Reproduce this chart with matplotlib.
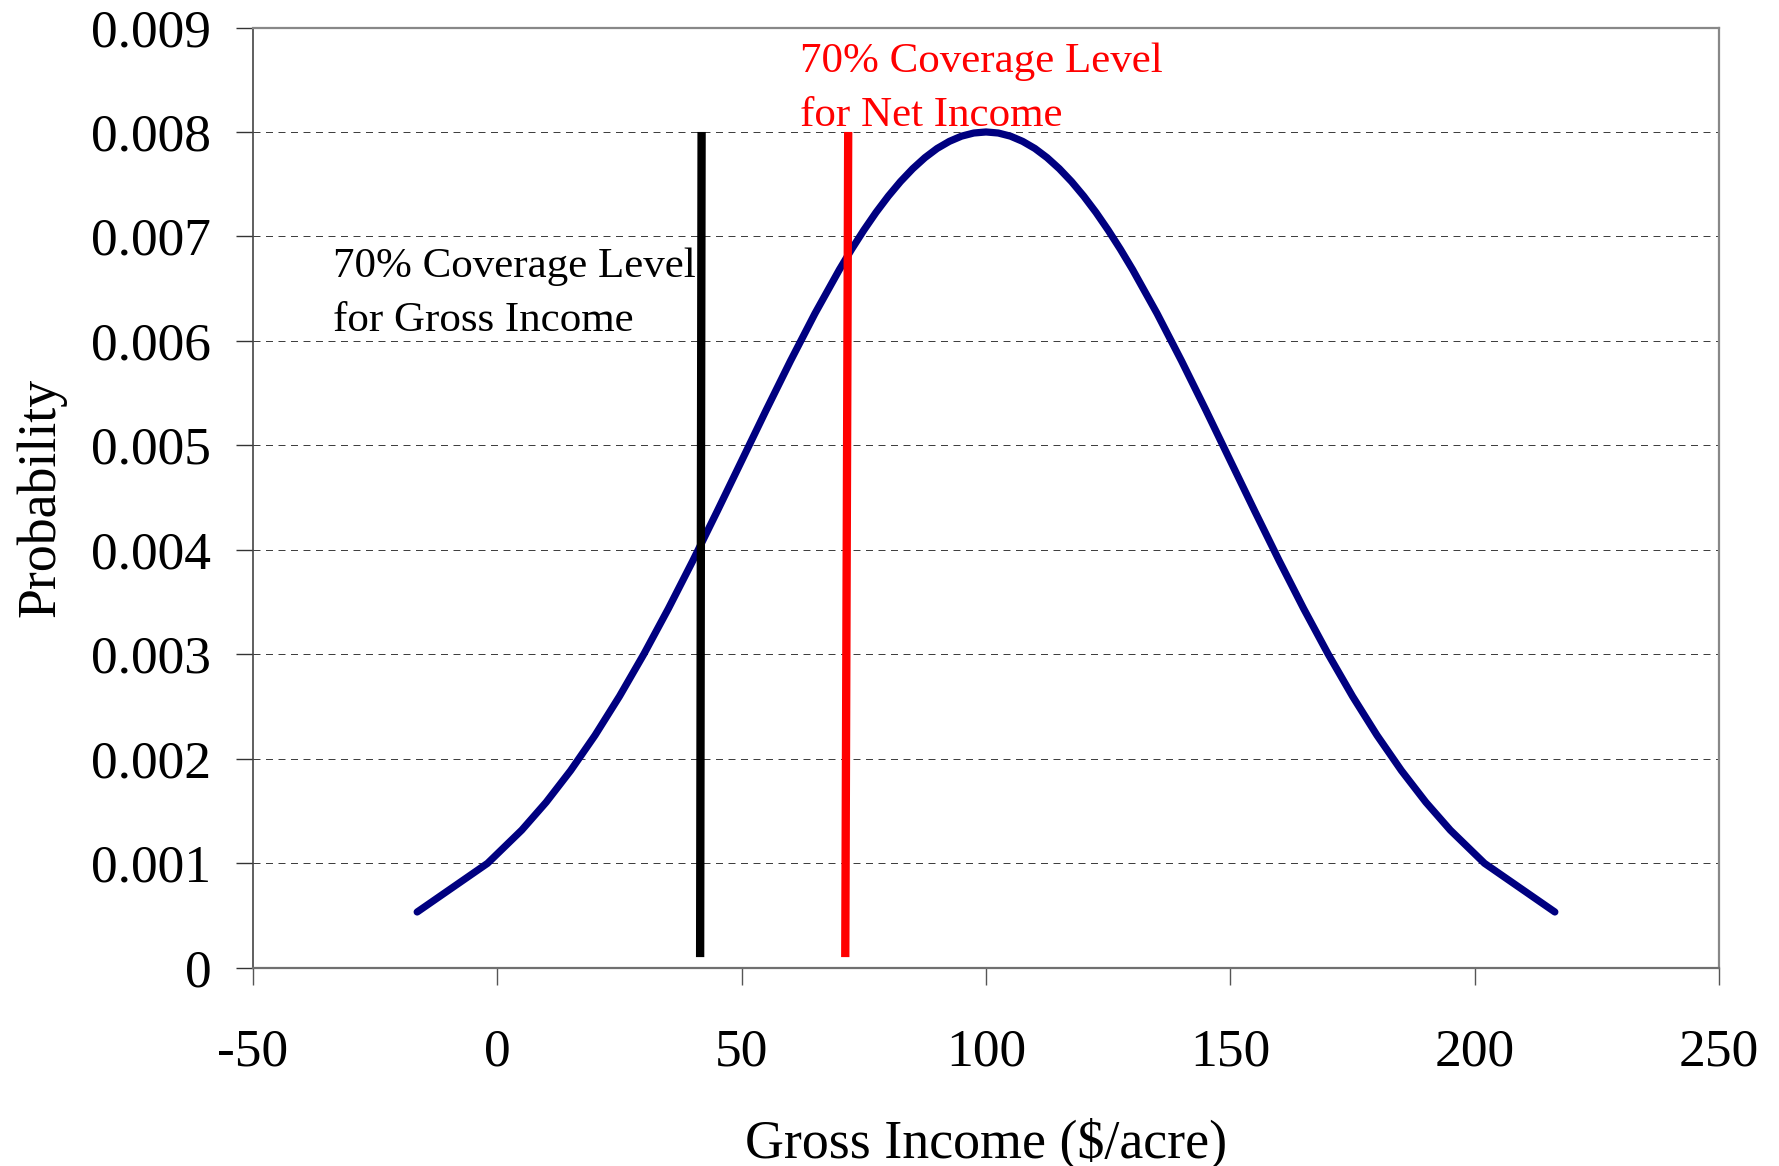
import matplotlib
matplotlib.use("Agg")
import matplotlib.pyplot as plt

# gross income ($/acre) and probability
income = [-16.4, -2, 5, 10, 15, 20, 25, 30, 35, 40, 45, 50, 55, 60, 65,
          70, 72.5, 75, 77.5, 80, 82.5, 85, 87.5, 90, 92.5, 95, 97.5, 100,
          102.5, 105, 107.5, 110, 112.5, 115, 117.5, 120, 122.5, 125, 127.5, 130,
          135, 140, 145, 150, 155, 160, 165, 170, 175, 180, 185, 190, 195, 202, 216.4]
prob = [0.000532, 0.000998, 0.001316, 0.001583, 0.001886, 0.002224, 0.002597, 0.003002, 0.003436,
        0.003894, 0.004369, 0.004852, 0.005336, 0.005809, 0.006262,
        0.006682, 0.006877, 0.007060, 0.007230, 0.007385, 0.007525, 0.007648, 0.007754,
        0.007842, 0.007910, 0.007960, 0.007990, 0.008000,
        0.007990, 0.007960, 0.007910, 0.007842, 0.007754, 0.007648, 0.007525, 0.007385,
        0.007230, 0.007060, 0.006877, 0.006682,
        0.006262, 0.005809, 0.005336, 0.004852, 0.004369, 0.003894, 0.003436, 0.003002,
        0.002597, 0.002224, 0.001886, 0.001583, 0.001316, 0.000998, 0.000532]

# coverage level lines (x at bottom, x at top), y from 0.0001 to 0.008
gross_line_x = [41.5, 41.8]
net_line_x = [71.2, 71.8]
line_y = [0.0001, 0.008]

xticks = [-50, 0, 50, 100, 150, 200, 250]
yticks = [0, 0.001, 0.002, 0.003, 0.004, 0.005, 0.006, 0.007, 0.008, 0.009]
ytick_labels = ["0", "0.001", "0.002", "0.003", "0.004", "0.005", "0.006", "0.007", "0.008", "0.009"]

plt.rcParams['font.family'] = ['Liberation Serif', 'DejaVu Serif']
plt.rcParams['axes.unicode_minus'] = False

fig = plt.figure(figsize=(17.79, 11.66), dpi=100)
ax = fig.add_axes([0.1422, 0.1702, 0.8241, 0.8062])

for y in yticks[1:-1]:
    ax.axhline(y, color='#404040', lw=0.72, linestyle=(0, (7, 5.5)), zorder=1)

ax.plot(income, prob, color='#000080', lw=5.2, solid_capstyle='round', solid_joinstyle='round', zorder=3)
ax.plot(gross_line_x, line_y, color='black', lw=6, solid_capstyle='butt', zorder=4)
ax.plot(net_line_x, line_y, color='#ff0000', lw=6, solid_capstyle='butt', zorder=4)

ax.text(-33.6, 0.006895, "70% Coverage Level\nfor Gross Income", fontsize=31, color='black',
        ha='left', va='top', linespacing=1.53)
ax.text(61.9, 0.00886, "70% Coverage Level\nfor Net Income", fontsize=31, color='#ff0000',
        ha='left', va='top', linespacing=1.53)

ax.set_xlim(-50, 250)
ax.set_ylim(0, 0.009)
ax.set_xticks(xticks)
ax.set_yticks(yticks)
ax.set_yticklabels(ytick_labels)
ax.tick_params(axis='y', direction='out', length=12, width=1, color='#333333', labelsize=38.5, pad=18)
ax.tick_params(axis='x', direction='out', length=12, width=1, color='#555555', labelsize=38.5, pad=32)

ax.spines['left'].set_color('#444444')
ax.spines['left'].set_linewidth(1.2)
ax.spines['bottom'].set_color('#707070')
ax.spines['bottom'].set_linewidth(1.6)
ax.spines['top'].set_color('#888888')
ax.spines['top'].set_linewidth(1.6)
ax.spines['right'].set_color('#888888')
ax.spines['right'].set_linewidth(1.6)

ax.set_xlabel("Gross Income ($/acre)", fontsize=38.8)
ax.set_ylabel("Probability", fontsize=38.8)
ax.xaxis.set_label_coords(0.5, -0.1597)
ax.yaxis.set_label_coords(-0.1271, 0.5)

fig.savefig("out.png", dpi=100)
